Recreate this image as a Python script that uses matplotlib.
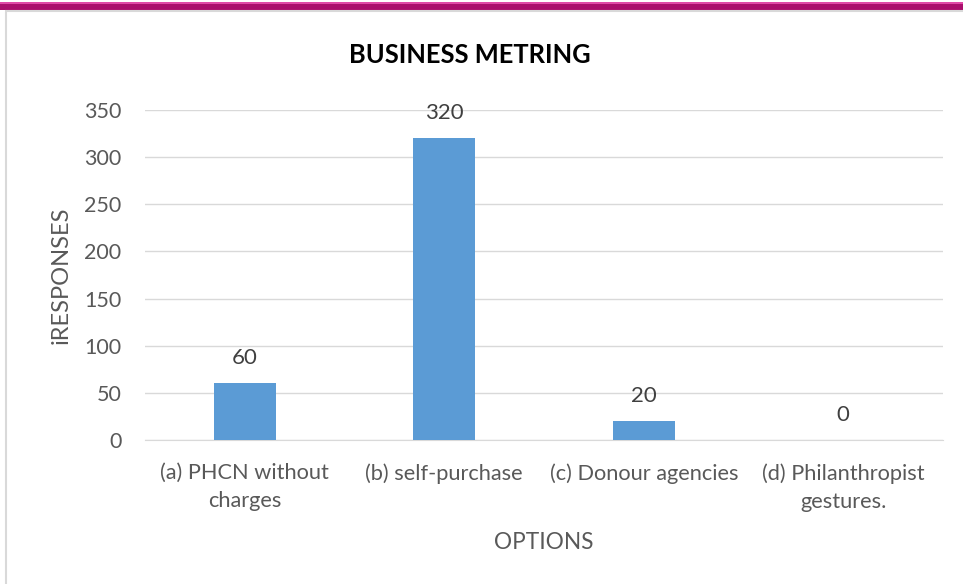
import matplotlib
matplotlib.use("Agg")
import matplotlib.pyplot as plt
from matplotlib.patches import Rectangle

categories = ["(a) PHCN without\ncharges", "(b) self-purchase", "(c) Donour agencies", "(d) Philanthropist\ngestures."]
values = [60, 320, 20, 0]
yticks = [0, 50, 100, 150, 200, 250, 300, 350]

plt.rcParams['font.family'] = ['Lato', 'DejaVu Sans']
W, H = 963, 584
fig = plt.figure(figsize=(W/100, H/100), dpi=100)

# page decoration: magenta band and chart border
fig.patches.append(Rectangle((0, 1 - 10/H), 1, 8/H, transform=fig.transFigure,
                             facecolor='#AA0F6D', edgecolor='none'))
fig.patches.append(Rectangle((0, 1 - 4/H), 1, 2/H, transform=fig.transFigure,
                             facecolor='#E04AA8', edgecolor='none'))
fig.patches.append(Rectangle((6/W, -0.01), 1, 1 - 11/H + 0.01, transform=fig.transFigure,
                             facecolor='none', edgecolor='#D9D9D9', linewidth=1.5))

ax = fig.add_axes([145/W, 1 - 440/H, 798/W, 330/H])
x = range(len(categories))
bars = ax.bar(x, values, width=0.31, color='#5B9BD5', zorder=3)
ax.set_xlim(-0.5, len(categories) - 0.5)
ax.set_ylim(0, 350)
ax.set_yticks(yticks)
ax.set_xticks(list(x))
ax.set_xticklabels(categories)
ax.grid(axis='y', color='#D9D9D9', linewidth=1, zorder=0)
for s in ['top', 'right', 'left']:
    ax.spines[s].set_visible(False)
ax.spines['bottom'].set_color('#D9D9D9')
ax.tick_params(axis='both', length=0, colors='#595959')
ax.tick_params(axis='y', pad=17, labelsize=15.5)
ax.tick_params(axis='x', pad=16.5, labelsize=15.7)
for lbl in ax.get_xticklabels():
    lbl.set_linespacing(1.5)

for xi, v in zip(x, values):
    ax.annotate(str(v), (xi, v), xytext=(0, 11), textcoords='offset points',
                ha='center', va='bottom', fontsize=16, color='#404040')

ax.set_ylabel('iRESPONSES', fontsize=17, color='#595959', labelpad=9)
ax.set_xlabel('OPTIONS', fontsize=16.3, color='#595959', labelpad=15)
fig.text(470/W, 1 - 55/H, 'BUSINESS METRING', ha='center', va='center',
         fontsize=18.4, fontweight='bold', color='black')

fig.savefig('out.png', dpi=100)
